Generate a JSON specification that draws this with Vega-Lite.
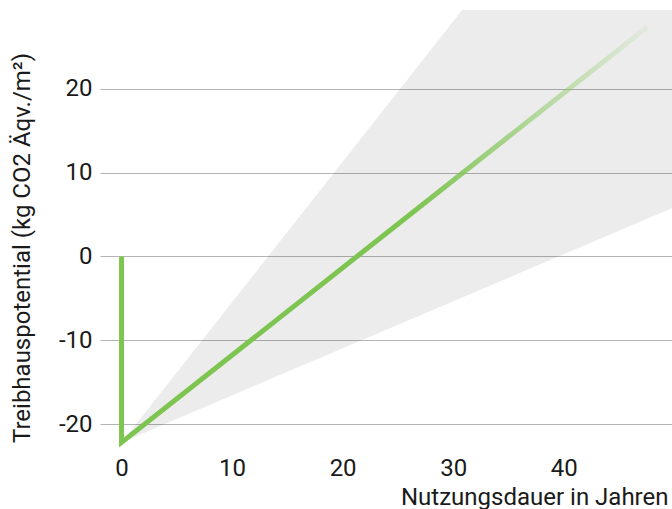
{
  "$schema": "https://vega.github.io/schema/vega-lite/v6.json",
  "width": 572,
  "height": 440,
  "autosize": "none",
  "padding": {"left": 100, "top": 10, "right": 0, "bottom": 59},
  "background": "white",
  "config": {
    "view": {"stroke": null},
    "font": "Roboto",
    "axis": {
      "labelFont": "Roboto",
      "titleFont": "Roboto",
      "labelFontSize": 24,
      "titleFontSize": 24,
      "titleFontWeight": "normal",
      "labelColor": "#1a1a1a",
      "titleColor": "#1a1a1a",
      "domain": false,
      "ticks": false
    }
  },
  "datasets": {
    "cone": [
      {"jahr": 0, "unten": -22.2, "oben": -22.2},
      {"jahr": 49.8, "unten": 5.75, "oben": 61.2}
    ],
    "linie": [
      {"schritt": 1, "jahr": 0, "wert": 0},
      {"schritt": 2, "jahr": 0, "wert": -22.2},
      {"schritt": 3, "jahr": 47.6, "wert": 27.4}
    ]
  },
  "layer": [
    {
      "data": {"name": "cone"},
      "mark": {"type": "area", "clip": true, "fill": "#000000", "fillOpacity": 0.075},
      "encoding": {
        "x": {
          "field": "jahr", "type": "quantitative",
          "scale": {"domain": [-1.95, 49.8], "nice": false, "zero": false},
          "axis": {
            "values": [0, 10, 20, 30, 40],
            "grid": false,
            "labelPadding": 6,
            "labelExpr": "'' + datum.value",
            "title": "Nutzungsdauer in Jahren",
            "titleAlign": "right",
            "titleAnchor": null,
            "titleX": 568,
            "titleY": 54,
            "titleBaseline": "alphabetic"
          }
        },
        "y": {
          "field": "unten", "type": "quantitative",
          "scale": {"domain": [-23.1, 29.4], "nice": false, "zero": false},
          "axis": {
            "values": [-20, -10, 0, 10, 20],
            "grid": true,
            "gridColor": "#b4b4b4",
            "gridWidth": 1.2,
            "labelPadding": 8,
            "labelExpr": "'' + datum.value",
            "title": "Treibhauspotential (kg CO2 Äqv./m²)",
            "titleX": -78,
            "titleY": 237.5,
            "titleAnchor": null,
            "titleAlign": "center",
            "titleBaseline": "middle",
            "titleAngle": -90
          }
        },
        "y2": {"field": "oben"}
      }
    },
    {
      "data": {"name": "linie"},
      "mark": {
        "type": "line",
        "strokeWidth": 5,
        "strokeJoin": "miter",
        "strokeCap": "butt",
        "color": {
          "gradient": "linear",
          "x1": 0, "y1": 0, "x2": 1, "y2": 0,
          "stops": [
            {"offset": 0, "color": "rgba(125,196,80,1)"},
            {"offset": 0.55, "color": "rgba(125,196,80,1)"},
            {"offset": 1, "color": "rgba(125,196,80,0.08)"}
          ]
        }
      },
      "encoding": {
        "x": {"field": "jahr", "type": "quantitative"},
        "y": {"field": "wert", "type": "quantitative"},
        "order": {"field": "schritt", "type": "quantitative"}
      }
    }
  ]
}
